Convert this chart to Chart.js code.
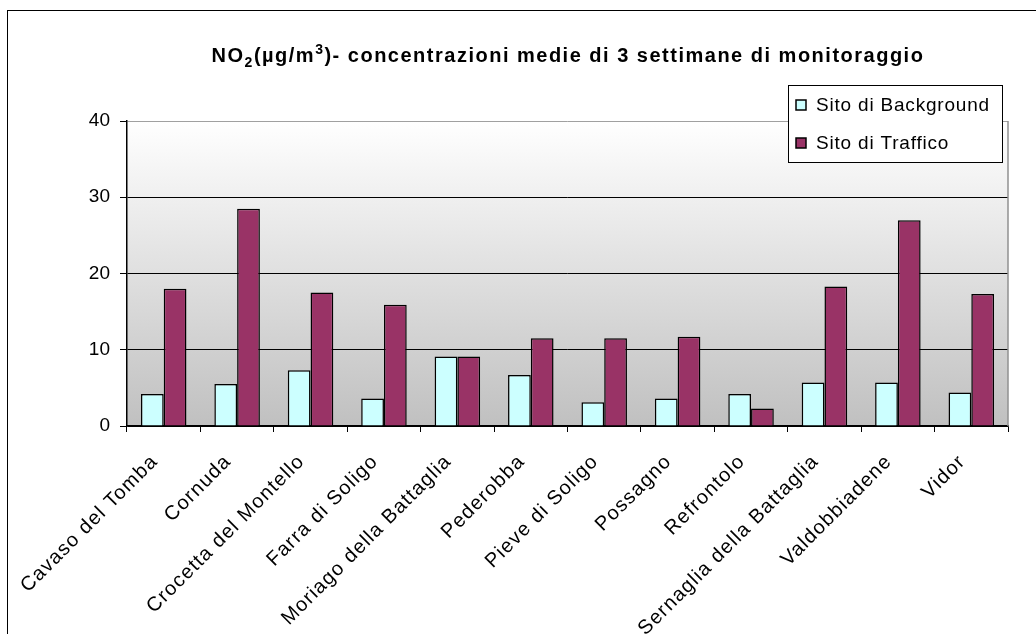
<!DOCTYPE html>
<html>
<head>
<meta charset="utf-8">
<script src="https://cdn.jsdelivr.net/npm/chart.js@4"></script>
<style>
  body { margin: 0; background: #fff; }
</style>
</head>
<body>
<canvas id="myChart" width="1036" height="634"></canvas>
<script>
const categories = ['Cavaso del Tomba', 'Cornuda', 'Crocetta del Montello', 'Farra di Soligo',
  'Moriago della Battaglia', 'Pederobba', 'Pieve di Soligo', 'Possagno', 'Refrontolo',
  'Sernaglia della Battaglia', 'Valdobbiadene', 'Vidor'];
const background = [4.2, 5.5, 7.3, 3.6, 9.1, 6.7, 3.1, 3.6, 4.2, 5.7, 5.7, 4.4];
const traffic = [18.0, 28.5, 17.5, 15.9, 9.1, 11.5, 11.5, 11.7, 2.3, 18.3, 27.0, 17.3];
const yTicks = [0, 10, 20, 30, 40];

const FONT = '"Liberation Sans", Arial, sans-serif';

// background, frame, title and legend drawn around the chart
const decor = {
  id: 'decor',
  afterLayout(chart) {
    // excel-like slightly wide letter spacing on the category labels
    const xs = chart.scales.x;
    if (!xs._wideLabels) {
      const orig = xs.drawLabels.bind(xs);
      xs.drawLabels = function (area) {
        const c = this.ctx;
        c.save();
        c.letterSpacing = '1.2px';
        c.translate(-9, 0);
        orig(area);
        c.restore();
      };
      xs._wideLabels = true;
    }
  },
  beforeDraw(chart) {
    const ctx = chart.ctx, a = chart.chartArea;
    ctx.save();
    ctx.fillStyle = '#fff';
    ctx.fillRect(0, 0, chart.width, chart.height);
    const g = ctx.createLinearGradient(0, a.top, 0, a.bottom);
    g.addColorStop(0, '#ffffff');
    g.addColorStop(1, '#c0c0c0');
    ctx.fillStyle = g;
    ctx.fillRect(a.left, a.top, a.right - a.left, a.bottom - a.top);
    ctx.strokeStyle = '#000';
    ctx.lineWidth = 1;
    ctx.strokeRect(7.5, 10.5, 1100, 700);
    ctx.restore();
  },
  afterDatasetsDraw(chart) {
    const ctx = chart.ctx, a = chart.chartArea;
    ctx.save();
    ctx.strokeStyle = '#909090';
    ctx.lineWidth = 1.5;
    ctx.beginPath();
    ctx.moveTo(a.right, a.top);
    ctx.lineTo(a.right, a.bottom);
    ctx.stroke();
    ctx.restore();
  },
  afterDraw(chart) {
    const ctx = chart.ctx;
    ctx.save();
    // title with subscript / superscript
    const parts = [
      ['NO', 0, 20], ['2', 5, 14], ['(µg/m', 0, 20], ['3', -8, 14],
      [')- concentrazioni medie di 3 settimane di monitoraggio', 0, 20]
    ];
    ctx.letterSpacing = '1.5px';
    let total = 0;
    parts.forEach(p => { ctx.font = 'bold ' + p[2] + 'px ' + FONT; total += ctx.measureText(p[0]).width; });
    let x = 568 - total / 2;
    ctx.fillStyle = '#000';
    ctx.textBaseline = 'alphabetic';
    parts.forEach(p => {
      ctx.font = 'bold ' + p[2] + 'px ' + FONT;
      ctx.fillText(p[0], x, 62 + p[1]);
      x += ctx.measureText(p[0]).width;
    });
    // legend
    ctx.fillStyle = '#fff';
    ctx.fillRect(788, 85, 214, 77);
    ctx.strokeStyle = '#000';
    ctx.lineWidth = 1;
    ctx.strokeRect(788.5, 85.5, 214, 77);
    ctx.letterSpacing = '0.8px';
    ctx.font = '19px ' + FONT;
    ctx.textBaseline = 'middle';
    chart.data.datasets.forEach((ds, i) => {
      const cy = 105 + i * 38;
      ctx.fillStyle = ds.backgroundColor;
      ctx.fillRect(796, cy - 5, 10, 10);
      ctx.strokeStyle = '#000';
      ctx.lineWidth = 1.5;
      ctx.strokeRect(796, cy - 5, 10, 10);
      ctx.fillStyle = '#000';
      ctx.fillText(ds.label, 816, cy + 1);
    });
    ctx.restore();
  }
};

var ctx = document.getElementById('myChart').getContext('2d');

var myChart = new Chart(ctx, {
  type: 'bar',
  data: {
    labels: categories,
    datasets: [{
      label: 'Sito di Background',
      data: background,
      backgroundColor: '#ccffff',
      borderColor: '#000',
      borderWidth: 1.5
    }, {
      label: 'Sito di Traffico',
      data: traffic,
      backgroundColor: '#993366',
      borderColor: '#000',
      borderWidth: 1.5
    }]
  },
  options: {
    responsive: false,
    animation: false,
    layout: { padding: { top: 121, right: 28, left: 0, bottom: 0 } },
    categoryPercentage: 0.62,
    barPercentage: 1,
    plugins: {
      legend: { display: false },
      title: { display: false },
      tooltip: { enabled: false }
    },
    scales: {
      x: {
        offset: true,
        grid: { offset: true, drawOnChartArea: false, tickLength: 6, tickColor: '#000' },
        border: { color: '#000', width: 1.5 },
        ticks: {
          autoSkip: false,
          minRotation: 45,
          maxRotation: 45,
          color: '#000',
          padding: 18,
          font: { family: FONT, size: 20 }
        },
        afterFit(scale) { scale.height = 208; }
      },
      y: {
        min: 0,
        max: 40,
        afterBuildTicks(scale) { scale.ticks = yTicks.map(v => ({ value: v })); },
        grid: {
          color: c => (c.tick && c.tick.value === 40) ? '#a0a0a0' : '#000',
          lineWidth: 1,
          tickLength: 7,
          tickColor: '#000'
        },
        border: { color: '#000', width: 1.5 },
        ticks: {
          color: '#000',
          padding: 10,
          font: { family: FONT, size: 19 }
        },
        afterFit(scale) { scale.width = 127; }
      }
    }
  },
  plugins: [decor]
});
</script>
</body>
</html>
